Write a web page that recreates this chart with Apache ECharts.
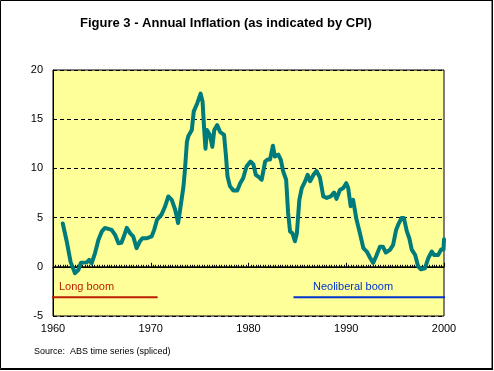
<!DOCTYPE html>
<html>
<head>
<meta charset="utf-8">
<script src="https://cdn.jsdelivr.net/npm/echarts@6/dist/echarts.min.js"></script>
<style>
html,body{margin:0;padding:0;background:#fff;}
#c{width:494px;height:371px;}
</style>
</head>
<body>
<div id="c"></div>
<script>
// Annual CPI inflation (%)
const years = [1961.0, 1961.4, 1961.8, 1962.25, 1962.6, 1962.85, 1963.45, 1963.7, 1963.95, 1964.3, 1964.65, 1965.0, 1965.3, 1966.0, 1966.35, 1966.7, 1967.0, 1967.25, 1967.55, 1967.9, 1968.2, 1968.55, 1968.9, 1969.15, 1969.6, 1970.1, 1970.35, 1970.65, 1971.1, 1971.45, 1971.8, 1972.15, 1972.5, 1972.8, 1973.15, 1973.35, 1973.5, 1973.7, 1973.85, 1973.95, 1974.2, 1974.4, 1974.75, 1975.1, 1975.3, 1975.45, 1975.6, 1975.75, 1976.05, 1976.3, 1976.5, 1976.8, 1977.1, 1977.5, 1977.7, 1977.85, 1978.1, 1978.45, 1978.85, 1979.15, 1979.45, 1979.8, 1980.2, 1980.5, 1980.75, 1981.1, 1981.35, 1981.7, 1981.95, 1982.2, 1982.5, 1982.7, 1983.05, 1983.3, 1983.55, 1983.85, 1984.05, 1984.25, 1984.5, 1984.75, 1984.95, 1985.2, 1985.45, 1985.8, 1986.05, 1986.3, 1986.65, 1986.95, 1987.3, 1987.65, 1988.0, 1988.4, 1988.75, 1989.0, 1989.35, 1989.7, 1990.0, 1990.2, 1990.45, 1990.7, 1991.05, 1991.4, 1991.75, 1992.1, 1992.45, 1992.75, 1993.05, 1993.45, 1993.75, 1994.05, 1994.5, 1994.8, 1995.1, 1995.3, 1995.65, 1995.9, 1996.2, 1996.45, 1996.7, 1997.05, 1997.35, 1997.65, 1998.05, 1998.4, 1998.75, 1999.0, 1999.4, 1999.7, 1999.95, 2000.0];
const inflation = [4.4, 2.6, 0.5, -0.65, -0.3, 0.4, 0.45, 0.7, 0.35, 1.4, 2.75, 3.6, 3.95, 3.75, 3.25, 2.4, 2.45, 3.1, 3.95, 3.4, 3.1, 1.9, 2.6, 2.9, 2.9, 3.1, 3.75, 4.8, 5.3, 6.1, 7.15, 6.8, 5.8, 4.45, 6.8, 8.2, 9.9, 12.7, 13.3, 13.4, 13.9, 15.8, 16.6, 17.6, 16.8, 14.2, 12.0, 13.9, 13.4, 12.2, 13.9, 14.4, 13.7, 13.4, 11.2, 9.2, 8.2, 7.75, 7.75, 8.5, 9.0, 10.2, 10.7, 10.4, 9.35, 9.1, 8.85, 10.7, 10.9, 10.9, 12.3, 11.2, 11.4, 10.9, 9.7, 8.85, 5.5, 3.6, 3.4, 2.6, 3.4, 6.8, 8.0, 8.7, 9.35, 8.7, 9.35, 9.75, 9.1, 7.15, 7.0, 7.15, 7.55, 6.9, 7.8, 8.0, 8.5, 8.0, 6.15, 6.8, 4.8, 3.4, 1.9, 1.55, 0.9, 0.4, 1.05, 2.05, 2.05, 1.45, 1.75, 2.25, 3.75, 4.25, 4.95, 4.95, 3.6, 2.9, 1.75, 1.2, 0.05, -0.25, -0.15, 0.9, 1.55, 1.2, 1.2, 1.75, 1.75, 2.8];

// Period annotations
const periodNames = ["Long boom", "Neoliberal boom"];
const periodStart = [1959.9, 1984.6];
const periodEnd = [1970.7, 2000.2];
const periodLevel = -3.1;

// Axis
const xMin = 1960, xMax = 2000, xStep = 10;
const yMin = -5, yMax = 20, yStep = 5;

const FONT = '"Liberation Sans", Arial, sans-serif';
const chart = echarts.init(document.getElementById('c'), null, {renderer: 'canvas'});

const seriesData = years.map((y, i) => [y, inflation[i]]);

chart.setOption({
  animation: false,
  backgroundColor: '#ffffff',
  grid: {
    left: 53, top: 70, width: 391, height: 246,
    show: true, backgroundColor: '#FFFF99', borderColor: '#000', borderWidth: 1
  },
  xAxis: {
    type: 'value', min: xMin, max: xMax, interval: xStep,
    axisLine: {show: true, lineStyle: {color: '#000', width: 1}},
    axisTick: {show: true, inside: true, length: 4, lineStyle: {color: '#000'}},
    minorTick: {show: true, splitNumber: 40, length: 2, lineStyle: {color: '#000'}},
    splitLine: {show: false},
    axisLabel: {color: '#000', fontSize: 11, fontFamily: FONT, margin: 7, formatter: v => String(v)}
  },
  yAxis: {
    type: 'value', min: yMin, max: yMax, interval: yStep,
    axisLine: {show: true, lineStyle: {color: '#000', width: 1}},
    axisTick: {show: false},
    splitLine: {show: true, lineStyle: {color: '#000', type: [4, 3], width: 1}},
    axisLabel: {color: '#000', fontSize: 11, fontFamily: FONT, margin: 10}
  },
  graphic: [
    {type: 'rect', shape: {x: 0.5, y: 0.5, width: 491.5, height: 368}, style: {fill: 'none', stroke: '#000', lineWidth: 1}, silent: true, z: 100},
    {type: 'line', shape: {x1: 492.5, y1: 0, x2: 492.5, y2: 370}, style: {stroke: '#000', lineWidth: 1}, z: 100},
    {type: 'line', shape: {x1: 0, y1: 369.5, x2: 493, y2: 369.5}, style: {stroke: '#000', lineWidth: 1}, z: 100},
    {type: 'text', left: 80, top: 17, style: {text: 'Figure 3 - Annual Inflation (as indicated by CPI)', font: 'bold 13px ' + FONT, fill: '#000'}},
    {type: 'text', left: 34, top: 347, style: {text: 'Source:  ABS time series (spliced)', font: '9px ' + FONT, fill: '#000'}},
    {type: 'text', left: 59, top: 281, style: {text: periodNames[0], font: '11px ' + FONT, fill: '#BB1E00'}, z: 50},
    {type: 'text', left: 313, top: 281, style: {text: periodNames[1], font: '11px ' + FONT, fill: '#0033CC'}, z: 50}
  ],
  series: [
    {
      type: 'line', data: [[xMin, 0], [xMax, 0]], showSymbol: false, silent: true,
      lineStyle: {color: '#000', width: 1}, z: 1
    },
    {
      type: 'line', data: [[periodStart[0], periodLevel], [periodEnd[0], periodLevel]],
      showSymbol: false, clip: false, lineStyle: {color: '#BB1E00', width: 2}, z: 3
    },
    {
      type: 'line', data: [[periodStart[1], periodLevel], [periodEnd[1], periodLevel]],
      showSymbol: false, clip: false, lineStyle: {color: '#0033CC', width: 2}, z: 3
    },
    {
      type: 'line', data: seriesData, showSymbol: false, clip: false,
      lineStyle: {color: '#007B7B', width: 4, join: 'round', cap: 'round'}, z: 4
    }
  ]
});
</script>
</body>
</html>
